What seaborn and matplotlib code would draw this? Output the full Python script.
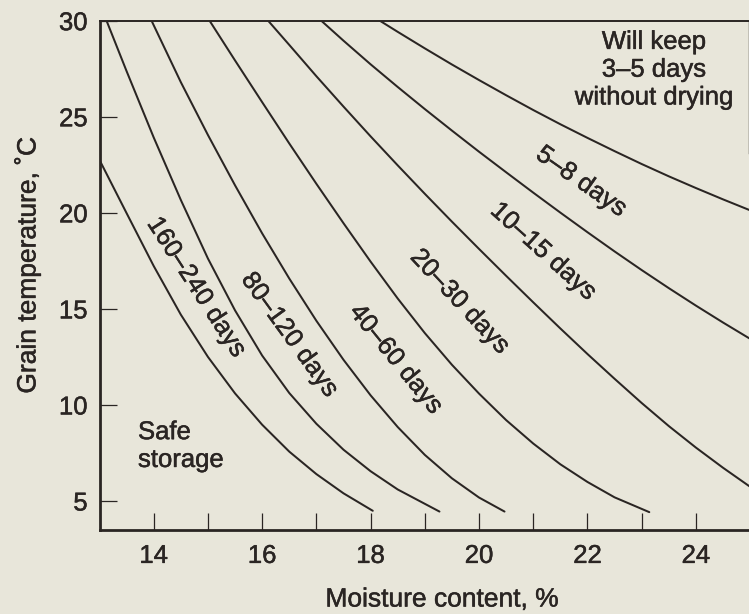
import matplotlib
matplotlib.use("Agg")
import matplotlib.pyplot as plt
import matplotlib.patheffects as pe
import pandas as pd
import seaborn as sns

# Boundary curves between storage-life zones: moisture content (%) vs grain temperature (°C)
edge1_x = [13.0, 13.5, 14.0, 14.5, 15.0, 15.5, 16.0, 16.5, 17.0, 17.5, 18.04]
edge1_y = [22.75, 19.98, 17.23, 14.7, 12.5, 10.6, 8.97, 7.57, 6.4, 5.4, 4.49]

edge2_x = [13.13, 13.5, 14.0, 14.5, 15.0, 15.5, 16.0, 16.5, 17.0, 17.5, 18.0, 18.5, 19.27]
edge2_y = [30.0, 27.37, 23.92, 20.67, 17.62, 14.92, 12.57, 10.62, 9.02, 7.67, 6.55, 5.6, 4.45]

edge3_x = [13.96, 14.5, 15.0, 15.5, 16.0, 16.5, 17.0, 17.5, 18.0, 18.5, 19.0, 19.5, 20.0, 20.47]
edge3_y = [30.0, 26.8, 24.05, 21.43, 18.93, 16.58, 14.38, 12.35, 10.5, 8.85, 7.4, 6.18, 5.18, 4.45]

edge4_x = [15.03, 15.5, 16.0, 16.5, 17.0, 17.5, 18.0, 18.5, 19.0, 19.5, 20.0, 20.5,
           21.0, 21.5, 22.0, 22.5, 23.14]
edge4_y = [30.0, 27.93, 25.76, 23.61, 21.51, 19.46, 17.46, 15.54, 13.74, 12.09, 10.59, 9.21,
           7.99, 6.91, 5.99, 5.19, 4.42]

edge5_x = [16.11, 16.5, 17.0, 17.5, 18.0, 18.5, 19.0, 19.5, 20.0, 20.5, 21.0, 21.5,
           22.0, 22.5, 23.0, 23.5, 24.0, 24.5, 25.0]
edge5_y = [30.0, 28.74, 27.11, 25.53, 23.98, 22.47, 20.99, 19.54, 18.12, 16.72, 15.34, 13.98,
           12.65, 11.36, 10.1, 8.9, 7.78, 6.73, 5.74]

edge6_x = [17.09, 17.5, 18.0, 18.5, 19.0, 19.5, 20.0, 20.5, 21.0, 21.5, 22.0, 22.5,
           23.0, 23.5, 24.0, 24.5, 25.0]
edge6_y = [30.0, 28.96, 27.73, 26.55, 25.4, 24.28, 23.18, 22.11, 21.05, 20.01, 18.99, 17.99,
           17.02, 16.08, 15.17, 14.29, 13.44]

edge7_x = [18.17, 18.5, 19.0, 19.5, 20.0, 20.5, 21.0, 21.5, 22.0, 22.5, 23.0, 23.5,
           24.0, 24.5, 25.0]
edge7_y = [30.0, 29.42, 28.56, 27.72, 26.91, 26.12, 25.35, 24.61, 23.9, 23.21, 22.54, 21.9,
           21.29, 20.7, 20.13]

zone_labels = ["160–240 days", "80–120 days", "40–60 days",
               "20–30 days", "10–15 days", "5–8 days"]

x_ticks = [14, 15, 16, 17, 18, 19, 20, 21, 22, 23, 24]
x_ticklabels = ["14", "", "16", "", "18", "", "20", "", "22", "", "24"]
y_ticks = [5, 10, 15, 20, 25, 30]

edges = [
    ("edge1", edge1_x, edge1_y),
    ("edge2", edge2_x, edge2_y),
    ("edge3", edge3_x, edge3_y),
    ("edge4", edge4_x, edge4_y),
    ("edge5", edge5_x, edge5_y),
    ("edge6", edge6_x, edge6_y),
    ("edge7", edge7_x, edge7_y),
]
df = pd.concat(
    [pd.DataFrame({"moisture": xs, "temp": ys, "edge": name}) for name, xs, ys in edges],
    ignore_index=True,
)

paper = "#e8e6da"
ink = "#2a2523"
heavier = [pe.withStroke(linewidth=0.35, foreground=ink)]

sns.set_theme(style="ticks")
plt.rcParams["font.family"] = ["Liberation Sans", "DejaVu Sans"]

fig = plt.figure(figsize=(7.49, 6.14), dpi=100, facecolor=paper)
ax = fig.add_axes([99.5 / 749, 84 / 614, 649 / 749, 509.3 / 614])
ax.set_facecolor(paper)

sns.lineplot(data=df, x="moisture", y="temp", units="edge", estimator=None,
             sort=False, color=ink, linewidth=1.45, ax=ax)

ax.set_xlim(13, 24.97)
ax.set_ylim(3.49, 30)

ax.set_xticks(x_ticks)
ax.set_xticklabels(x_ticklabels)
ax.set_yticks(y_ticks)
ax.tick_params(axis="both", direction="in", length=12.3, width=0.9, color=ink,
               labelcolor=ink, labelsize=18.5)
ax.tick_params(axis="x", pad=10)
ax.tick_params(axis="y", pad=8.5)
for lbl in ax.get_xticklabels() + ax.get_yticklabels():
    lbl.set_path_effects(heavier)

for side in ("left", "bottom"):
    ax.spines[side].set_linewidth(2.0)
    ax.spines[side].set_color(ink)
ax.spines["top"].set_linewidth(1.4)
ax.spines["top"].set_color(ink)
ax.spines["right"].set_linewidth(1.0)
ax.spines["right"].set_color(ink)
ax.spines["right"].set_bounds(23.1, 30)

ax.set_xlabel("Moisture content, %", fontsize=19, color=ink, path_effects=heavier)
ax.set_ylabel("Grain temperature, ˚C", fontsize=19, color=ink, path_effects=heavier)
ax.xaxis.set_label_coords(0.528, -0.113)
ax.yaxis.set_label_coords(-0.091, 0.52)

# zone labels laid along the curves
label_spots = [(14.79, 16.12, -57), (16.51, 13.64, -54), (18.47, 12.37, -51),
               (19.65, 15.37, -47), (21.19, 17.98, -42), (21.89, 21.62, -35)]
for text, (lx, ly, rot) in zip(zone_labels, label_spots):
    ax.text(lx, ly, text, rotation=rot, rotation_mode="anchor", ha="center",
            va="center", fontsize=18.5, color=ink, path_effects=heavier)

ax.text(13.71, 7.86, "Safe\nstorage", ha="left", va="center", fontsize=18.5,
        color=ink, linespacing=1.2, path_effects=heavier)
ax.text(23.23, 27.45, "Will keep\n3–5 days\nwithout drying", ha="center",
        va="center", fontsize=18.5, color=ink, linespacing=1.2, path_effects=heavier)

fig.savefig("out.png", dpi=100, facecolor=paper)
